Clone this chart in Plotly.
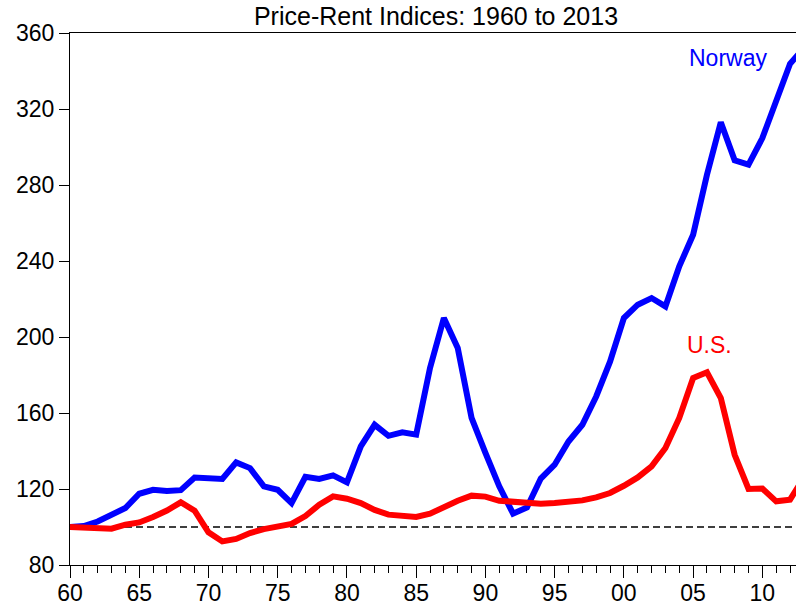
import plotly.graph_objects as go

years = list(range(1960, 2014))

norway = [100.0, 100.5, 102.9, 106.8, 110.0, 117.5, 119.6, 119.0, 119.4, 126.0,
          125.7, 125.3, 134.0, 131.0, 121.4, 119.6, 112.6, 126.4, 125.3, 127.2,
          123.5, 142.4, 153.8, 148.0, 149.8, 148.6, 183.7, 210.0, 194.2, 157.4,
          139.0, 121.4, 107.0, 110.3, 125.5, 132.8, 145.0, 153.8, 168.7, 187.0,
          210.0, 217.0, 220.5, 216.1, 237.2, 253.8, 285.4, 313.0, 293.0, 290.7,
          304.7, 324.9, 343.8, 352.0]

us = [100.0, 99.9, 99.7, 99.1, 101.2, 102.4, 105.3, 108.7, 113.0, 108.6,
      97.2, 92.4, 93.7, 96.8, 98.9, 100.0, 101.6, 105.8, 111.7, 116.1,
      114.9, 112.6, 109.0, 106.5, 105.6, 105.3, 107.0, 110.5, 113.8, 116.5,
      116.0, 113.8, 113.1, 112.6, 112.3, 112.6, 113.3, 114.0, 115.6, 117.9,
      121.7, 126.1, 131.9, 141.6, 157.4, 178.4, 181.4, 167.9, 138.0, 120.0,
      120.2, 113.5, 114.4, 126.0]

base_level = 100
tick_years = list(range(1960, 2015, 5))
tick_text = ["60", "65", "70", "75", "80", "85", "90", "95", "00", "05", "10"]
y_ticks = [80, 120, 160, 200, 240, 280, 320, 360]

FONT = "Liberation Sans, Arial, sans-serif"
W, H = 796, 606

fig = go.Figure()
fig.add_trace(go.Scatter(x=years, y=norway, mode="lines", name="Norway",
                         line=dict(color="#0000FF", width=6)))
fig.add_trace(go.Scatter(x=years, y=us, mode="lines", name="U.S.",
                         line=dict(color="#FF0000", width=6)))
fig.add_hline(y=base_level, line=dict(color="black", width=1.3, dash="7px,4px"),
              layer="below")

fig.add_annotation(x=2007.5, y=347, text="Norway", showarrow=False,
                   font=dict(family=FONT, size=23, color="#0000FF"),
                   xanchor="center", yanchor="middle")
fig.add_annotation(x=2006.15, y=196, text="U.S.", showarrow=False,
                   font=dict(family=FONT, size=23, color="#FF0000"),
                   xanchor="center", yanchor="middle")

fig.update_layout(
    template="none",
    width=W, height=H,
    margin=dict(l=70, r=0, t=33, b=41),
    paper_bgcolor="white", plot_bgcolor="white",
    showlegend=False,
    font=dict(family=FONT, size=23, color="black"),
    title=dict(text="Price-Rent Indices: 1960 to 2013",
               font=dict(family=FONT, size=25, color="black"),
               x=436 / W, xanchor="center", xref="container",
               y=1 - 16.5 / H, yanchor="middle", yref="container"),
)
fig.update_xaxes(
    range=[1960, 2012.43], automargin=False,
    showgrid=False, zeroline=False,
    showline=True, linecolor="black", linewidth=1, mirror=True,
    ticks="outside", ticklen=12, tickwidth=1, tickcolor="black",
    tickmode="array", tickvals=tick_years, ticktext=tick_text,
    tickfont=dict(family=FONT, size=23, color="black"),
    ticklabelstandoff=-5,
    minor=dict(ticks="outside", ticklen=7, tickwidth=1, tickcolor="black",
               dtick=1, tick0=1960, showgrid=False),
)
fig.update_yaxes(
    range=[80, 360], automargin=False,
    showgrid=False, zeroline=False,
    showline=True, linecolor="black", linewidth=1, mirror=False,
    ticks="outside", ticklen=10, tickwidth=1, tickcolor="black",
    tickmode="array", tickvals=y_ticks,
    tickfont=dict(family=FONT, size=23, color="black"),
)

fig.write_html(
    "out.html",
    config={"displayModeBar": False},
    post_script=("document.body.style.margin='0';"
                 "document.body.style.overflow='hidden';"
                 "document.documentElement.style.overflow='hidden';"),
)
